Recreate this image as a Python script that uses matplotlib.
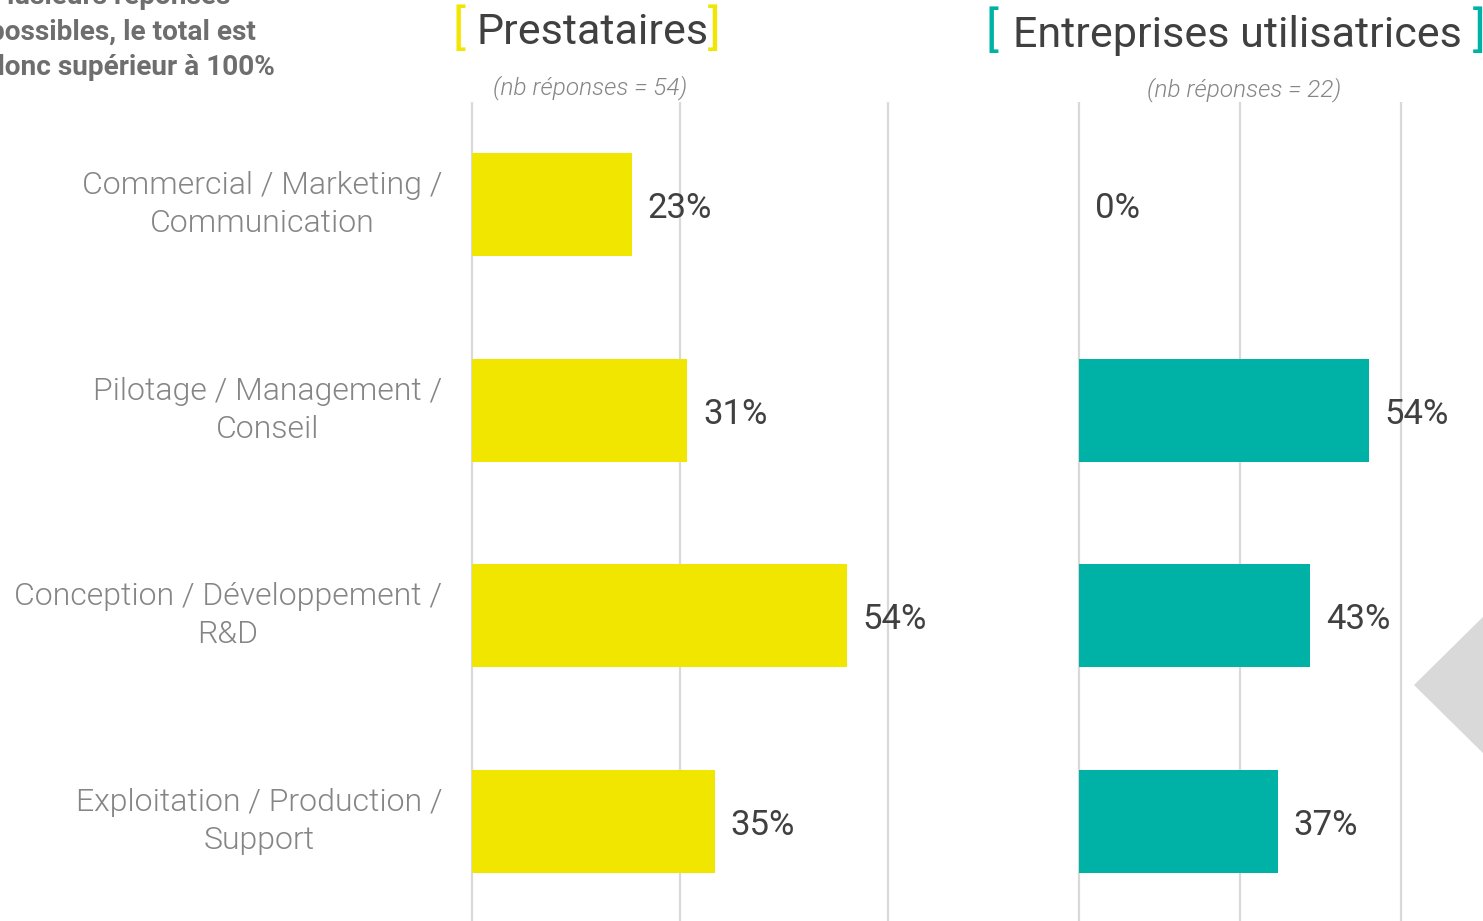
import matplotlib.pyplot as plt
from matplotlib.patches import Polygon

# data
categories = ["Commercial / Marketing /\nCommunication",
              "Pilotage / Management /\nConseil",
              "Conception / Développement /\nR&D",
              "Exploitation / Production /\nSupport"]
prestataires = [23, 31, 54, 35]
entreprises = [0, 54, 43, 37]
n_prestataires = 54
n_entreprises = 22

yellow = "#F1E600"
teal = "#00B2A5"
grid_col = "#D9D9D9"
dark = "#404040"
label_col = "#858585"

W, H = 1483, 921
fig = plt.figure(figsize=(W / 100, H / 100), dpi=100)

plt.rcParams['font.family'] = ['Roboto', 'DejaVu Sans']


def make_axes(x0_px, px_per_unit, xmax, top_px=102, bottom_px=924):
    xmin = -0.4
    left = x0_px + xmin * px_per_unit
    width = (xmax - xmin) * px_per_unit
    ax = fig.add_axes([left / W, 1 - bottom_px / H, width / W, (bottom_px - top_px) / H])
    ax.set_xlim(xmin, xmax)
    ax.set_ylim(3.5, -0.5)
    for s in ax.spines.values():
        s.set_visible(False)
    ax.set_xticks([0, 30, 60])
    ax.tick_params(axis='x', length=0, labelbottom=False)
    ax.grid(axis='x', color=grid_col, linewidth=1.6)
    ax.set_axisbelow(True)
    ax.patch.set_alpha(0)
    return ax


ax1 = make_axes(472, 6.94, 64)
ax2 = make_axes(1079, 5.367, 75)

ypos = list(range(len(categories)))
ax1.barh(ypos, prestataires, height=0.5, color=yellow)
ax2.barh(ypos, entreprises, height=0.5, color=teal)

for ax, vals in [(ax1, prestataires), (ax2, entreprises)]:
    for y, v in zip(ypos, vals):
        ax.annotate(f"{v}%", xy=(v, y), xytext=(11.5, -2.8), textcoords='offset points',
                    ha='left', va='center', fontsize=25, color=dark, clip_on=False)

ax1.set_yticks(ypos)
ax1.set_yticklabels(categories, fontsize=23, color=label_col, fontweight=300,
                    multialignment='center', linespacing=1.38, va='center')
ax1.tick_params(axis='y', length=0, pad=19.5)
ax2.set_yticks(ypos)
ax2.tick_params(axis='y', length=0, labelleft=False)


# titles
def fx(px):
    return px / W


def fy(px):
    return 1 - px / H


fig.text(fx(593), fy(33), "Prestataires", ha='center', va='center', fontsize=31, color=dark)
fig.text(fx(459), fy(31), "[", ha='center', va='center', fontsize=35, color=yellow)
fig.text(fx(714), fy(31), "]", ha='center', va='center', fontsize=35, color=yellow)

fig.text(fx(1237), fy(35), "Entreprises utilisatrices", ha='center', va='center', fontsize=31, color=dark)
fig.text(fx(992), fy(33), "[", ha='center', va='center', fontsize=35, color=teal)
fig.text(fx(1479), fy(33), "]", ha='center', va='center', fontsize=35, color=teal)

fig.text(fx(590), fy(88), f"(nb réponses = {n_prestataires})", ha='center', va='center',
         fontsize=17.6, color=label_col, style='italic', fontweight=300)
fig.text(fx(1244), fy(90), f"(nb réponses = {n_entreprises})", ha='center', va='center',
         fontsize=17.6, color=label_col, style='italic', fontweight=300)

fig.text(fx(-11), fy(32), "Plusieurs réponses\npossibles, le total est\ndonc supérieur à 100%",
         ha='left', va='center', fontsize=20.2, color="#6E6E6E", fontweight='bold', linespacing=1.39)

# decorative grey arrow on the right edge
tri = Polygon([(fx(1414), fy(685)), (fx(1490), fy(610)), (fx(1490), fy(760))],
              closed=True, transform=fig.transFigure, facecolor="#D9D9D9", edgecolor='none')
fig.patches.append(tri)

fig.savefig("out.png", dpi=100)
